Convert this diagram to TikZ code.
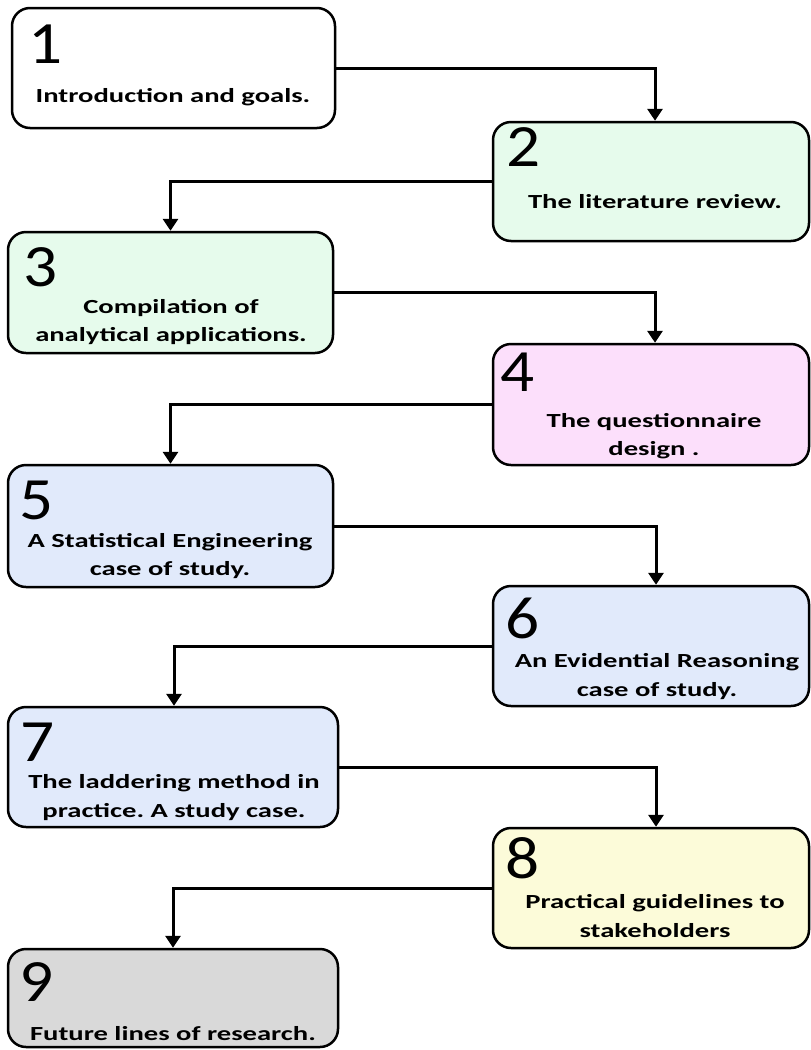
\documentclass[tikz,border=0pt]{standalone}
\usepackage{fontspec}
\setmainfont{Carlito}
\newfontfamily\stagenumfont[FakeStretch=1.12]{Carlito}
\newfontfamily\stagetextfont[FakeStretch=1.43]{Carlito}
\usetikzlibrary{arrows.meta}
\definecolor{stagewhite}{HTML}{FFFFFF}
\definecolor{stagegreen}{HTML}{E6FBEC}
\definecolor{stagepink}{HTML}{FCDFFB}
\definecolor{stageblue}{HTML}{E1EAFB}
\definecolor{stageyellow}{HTML}{FCFBD9}
\definecolor{stagegray}{HTML}{D9D9D9}
\frenchspacing
\begin{document}
\begin{tikzpicture}[x=1pt,y=-1pt,
  stagebox/.style={draw=black, line width=2.5pt, rounded corners=18pt, inner sep=0pt},
  numlabel/.style={anchor=base west, inner sep=0pt, font=\stagenumfont\fontsize{60}{60}\selectfont},
  desc/.style={anchor=base, inner sep=0pt, font=\stagetextfont\fontsize{20}{26}\selectfont\bfseries},
  link/.style={line width=3pt, -{Triangle[width=15pt,length=12pt]}}]
\useasboundingbox (0,0) rectangle (811,1050);

% stage boxes
\node[stagebox, fill=stagewhite,  minimum width=323pt, minimum height=120pt] (b1) at (173.5,68) {};
\node[stagebox, fill=stagegreen,  minimum width=316pt, minimum height=119pt] (b2) at (651,181.5) {};
\node[stagebox, fill=stagegreen,  minimum width=325pt, minimum height=121pt] (b3) at (170.5,292.5) {};
\node[stagebox, fill=stagepink,   minimum width=316pt, minimum height=121pt] (b4) at (651,404.5) {};
\node[stagebox, fill=stageblue,   minimum width=325pt, minimum height=122pt] (b5) at (170.5,526) {};
\node[stagebox, fill=stageblue,   minimum width=316pt, minimum height=120pt] (b6) at (651,646) {};
\node[stagebox, fill=stageblue,   minimum width=330pt, minimum height=120pt] (b7) at (173,767) {};
\node[stagebox, fill=stageyellow, minimum width=316pt, minimum height=120pt] (b8) at (651,888) {};
\node[stagebox, fill=stagegray,   minimum width=330pt, minimum height=98pt]  (b9) at (173,998) {};

% stage numbers
\node[numlabel] (n1) at (28,63) {1};
\node[numlabel] (n2) at (506,166) {2};
\node[numlabel] (n3) at (23,286) {3};
\node[numlabel] (n4) at (500,391) {4};
\node[numlabel] (n5) at (19,519) {5};
\node[numlabel] (n6) at (505,638) {6};
\node[numlabel] (n7) at (20,761) {7};
\node[numlabel] (n8) at (505,878) {8};
\node[numlabel] (n9) at (19,1001) {9};

% stage descriptions
\node[desc] (t1)  at (173,102) {Introduction and goals.};
\node[desc] (t2)  at (655,208) {The literature review.};
\node[desc] (t3a) at (171,313) {Compilation of};
\node[desc] (t3b) at (171,341) {analytical applications.};
\node[desc] (t4a) at (654,427) {The questionnaire};
\node[desc] (t4b) at (654,455) {design .};
\node[desc] (t5a) at (170,547) {A Statistical Engineering};
\node[desc] (t5b) at (170,575) {case of study.};
\node[desc] (t6a) at (657,667) {An Evidential Reasoning};
\node[desc] (t6b) at (657,696) {case of study.};
\node[desc] (t7a) at (174,788) {The laddering method in};
\node[desc] (t7b) at (174,817) {practice. A study case.};
\node[desc] (t8a) at (655,908) {Practical guidelines to};
\node[desc] (t8b) at (655,937) {stakeholders};
\node[desc] (t9)  at (173,1040) {Future lines of research.};

% flow between stages
\draw[link] (b1.east) -| ([xshift=4pt]b2.north);
\draw[link] (b2.west) -| (b3.north);
\draw[link] (b3.east) -| ([xshift=4pt]b4.north);
\draw[link] (b4.west) -| (b5.north);
\draw[link] (b5.east) -| ([xshift=5pt]b6.north);
\draw[link] (b6.west) -| ([xshift=1pt]b7.north);
\draw[link] (b7.east) -| ([xshift=5pt]b8.north);
\draw[link] (b8.west) -| (b9.north);
\end{tikzpicture}
\end{document}
